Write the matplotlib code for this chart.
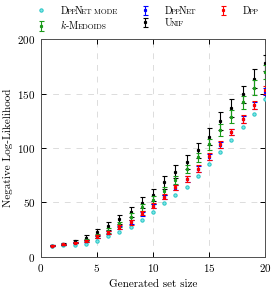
import matplotlib
matplotlib.use("Agg")
import matplotlib.pyplot as plt
from matplotlib.offsetbox import TextArea, HPacker

plt.rcParams['font.family'] = ['cmr10', 'DejaVu Serif']
plt.rcParams['mathtext.fontset'] = 'cm'
plt.rcParams['axes.formatter.use_mathtext'] = True

x = list(range(1, 21))
dppnet_mode = [10, 10.5, 11, 12, 14.7, 19.3, 22.7, 27.3, 34, 40.8, 49, 57, 64, 74, 85, 96, 107, 119, 131, 145.5]
dpp = [10, 11.4, 12.9, 14.7, 18.7, 22.4, 27.3, 31.5, 39.9, 46.9, 55.2, 63.8, 71.7, 81, 92.3, 103.3, 114.8, 126.8, 139.5, 153.5]
dpp_err = [0.3, 0.5, 0.7, 1, 1.2, 1.5, 1.7, 2, 2, 2.2, 2.5, 2.5, 2.7, 3, 3, 3, 3, 3.5, 3.5, 4]
dppnet = [10, 11.3, 12.8, 14.8, 18.5, 22.2, 27, 31.8, 39.5, 46.5, 55, 63.5, 71.5, 80.8, 92, 103, 114.5, 126.5, 139.2, 152]
dppnet_err = [0.3, 0.5, 0.6, 0.9, 1.1, 1.4, 1.6, 1.8, 1.9, 2, 2.2, 2.3, 2.5, 2.7, 2.8, 2.8, 2.9, 3.2, 3.3, 3.6]
kmed = [10, 11.5, 13, 15.3, 19, 24, 29.8, 36.8, 45.4, 52, 60.7, 70.5, 80.6, 91.3, 103.3, 116.7, 128.8, 142, 155.7, 170]
kmed_err = [0.3, 0.5, 0.8, 1, 1.5, 2, 2.5, 3, 3, 3.5, 3.5, 4, 4, 4.5, 5, 5.5, 6, 6, 6.5, 6.5]
unif = [10, 12, 14, 17.5, 22.4, 28.2, 34.4, 41, 49.6, 57, 68.7, 78, 87, 98, 110.5, 125, 137, 149.5, 164, 178]
unif_err = [0.5, 1, 1.5, 2.5, 3, 3.5, 4, 4.5, 5, 5.5, 6, 6, 6.5, 7, 7.5, 8, 8, 8, 8.5, 7.5]

fig = plt.figure(figsize=(2.73, 2.90), dpi=100)
ax = fig.add_axes([0.150, 0.115, 0.821, 0.749])

c_cyan = '#22c4c4'
c_green = '#1a9a1a'

h_mode, = ax.plot(x, dppnet_mode, linestyle='none', marker='o', ms=2.4,
                  mfc='#7fe6e6', mec=c_cyan, mew=0.7, zorder=3)
eb_kw = dict(linestyle='none', marker='s', ms=1.3, capsize=1.8, elinewidth=0.8, capthick=0.8)
h_unif = ax.errorbar(x, unif, yerr=unif_err, color='black', zorder=4, **eb_kw)
h_kmed = ax.errorbar(x, kmed, yerr=kmed_err, color=c_green, zorder=5, **eb_kw)
h_dppnet = ax.errorbar(x, dppnet, yerr=dppnet_err, color='blue', zorder=6, **eb_kw)
h_dpp = ax.errorbar(x, dpp, yerr=dpp_err, color='red', zorder=7, **eb_kw)

ax.set_xlim(0, 20)
ax.set_ylim(0, 200)
ax.set_xticks([0, 5, 10, 15, 20])
ax.set_yticks([0, 50, 100, 150, 200])
ax.tick_params(direction='in', top=True, right=True, length=3.5, width=0.7, labelsize=8, pad=4)
ax.grid(True, linestyle=(0, (6, 6)), color='#dcdcdc', linewidth=0.7)
ax.set_axisbelow(True)
for s in ax.spines.values():
    s.set_linewidth(0.7)
    s.set_color('#505050')
ax.set_xlabel('Generated set size', fontsize=8, labelpad=4)
ax.set_ylabel('Negative Log-Likelihood', fontsize=8, labelpad=3)

# legend, order in columns so rows read: mode, DppNet, Dpp / k-Medoids, Unif
handles = [h_mode, h_kmed, h_dppnet, h_unif, h_dpp]
labels = ['DppNet mode', 'k-Medoids', 'DppNet', 'Unif', 'Dpp']
leg = fig.legend(handles, labels, ncol=3, loc='upper left', bbox_to_anchor=(0.10, 1.005),
                 frameon=False, fontsize=7, handlelength=1.2, handletextpad=1.4,
                 columnspacing=2.2, labelspacing=0.25, borderpad=0.3)

B, S = 7.2, 5.4
sc = {
    'DppNet mode': [('D', B), ('PP', S), ('N', B), ('ET MODE', S)],
    'k-Medoids': [('$k$-M', B), ('EDOIDS', S)],
    'DppNet': [('D', B), ('PP', S), ('N', B), ('ET', S)],
    'Unif': [('U', B), ('NIF', S)],
    'Dpp': [('D', B), ('PP', S)],
}
try:
    for col in leg._legend_handle_box.get_children():
        for item in col.get_children():
            ch = item.get_children()
            ta = ch[1]
            lab = ta.get_text()
            parts = sc.get(lab)
            if parts is None:
                continue
            boxes = [TextArea(t, textprops=dict(fontsize=s, family=['cmr10', 'DejaVu Serif']))
                     for t, s in parts]
            hb = HPacker(children=boxes, pad=0, sep=-1.0, align='baseline')
            hb.set_figure(fig)
            ch[1] = hb
except Exception:
    pass

fig.savefig('out.png', dpi=100)
